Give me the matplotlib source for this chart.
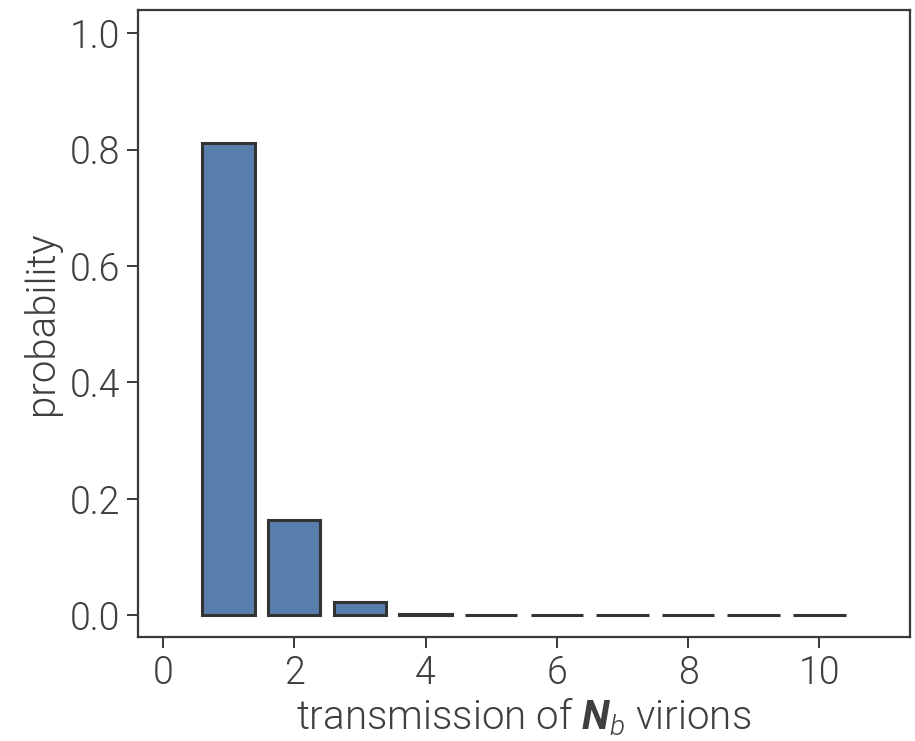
import matplotlib
matplotlib.use("Agg")
import matplotlib.pyplot as plt

# transmitted virion counts and their probabilities
counts = [1, 2, 3, 4, 5, 6, 7, 8, 9, 10]
probability = [0.812, 0.163, 0.022, 0.0025, 0.0003, 0.0, 0.0, 0.0, 0.0, 0.0]
xticks = [0, 2, 4, 6, 8, 10]
yticks = [0.0, 0.2, 0.4, 0.6, 0.8, 1.0]

text_color = "#3f3f3f"
plt.rcParams["font.family"] = ["Roboto", "DejaVu Sans"]
plt.rcParams["font.weight"] = 300
plt.rcParams["axes.labelweight"] = 300
plt.rcParams["mathtext.fontset"] = "custom"
plt.rcParams["mathtext.rm"] = "Roboto:weight=300"
plt.rcParams["mathtext.it"] = "Roboto:italic:weight=300"
plt.rcParams["mathtext.bf"] = "Roboto:italic:bold"

fig = plt.figure(figsize=(9.15, 7.41), dpi=100)
ax = fig.add_axes([0.1508, 0.1408, 0.8437, 0.8457])

ax.bar(counts, probability, width=0.8, color="#5a7eab",
       edgecolor="#333333", linewidth=2.2)

ax.set_xlim(-0.38, 11.38)
ax.set_ylim(-0.037, 1.04)
ax.set_xticks(xticks)
ax.set_yticks(yticks)
ax.set_yticklabels([f"{t:.1f}" for t in yticks])

for s in ax.spines.values():
    s.set_color("#3a3a3a")
    s.set_linewidth(1.6)
ax.tick_params(direction="out", length=8, width=1.4, color="#3a3a3a",
               labelsize=27, labelcolor=text_color, pad=5)

ax.set_ylabel("probability", fontsize=29, color=text_color, labelpad=6)
ax.set_xlabel(r"transmission of $\mathbf{N}_{\mathit{b}}$ virions",
              fontsize=29, color=text_color, labelpad=2)

fig.savefig("out.png", dpi=100)
